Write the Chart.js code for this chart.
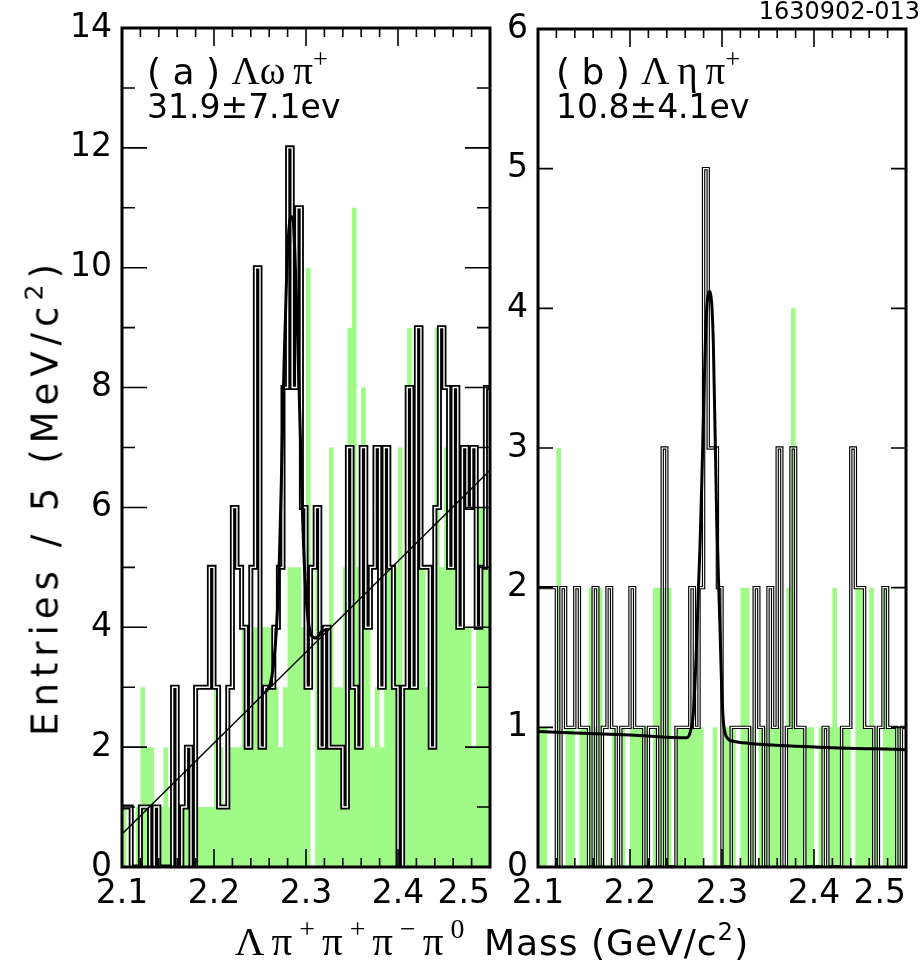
<!DOCTYPE html>
<html lang="en">
<head>
<meta charset="UTF-8">
<title>Lambda pi pi pi pi0 mass</title>
<script src="https://cdn.jsdelivr.net/npm/chart.js"></script>
<style>
  body { margin: 0; background: #fff; }
  .page { position: relative; width: 924px; height: 969px; overflow: hidden; color: #000;
          font-family: "DejaVu Sans", "Liberation Sans", Arial, sans-serif; }
  .page canvas { position: absolute; left: 0; top: 0; }
  .txt { position: absolute; white-space: nowrap; line-height: 1; }
  .gr { font-family: "Liberation Serif", "DejaVu Serif", serif; }
  sup { font-size: 0.68em; vertical-align: 0.6em; line-height: 0; }
</style>
</head>
<body>
<div class="page">
  <canvas id="chartA" width="924" height="969"></canvas>
  <canvas id="chartB" width="924" height="969"></canvas>

  <div class="txt" style="right:4px; top:-1px; font-size:24px;">1630902-013</div>

  <div class="txt" style="left:147px; top:51px; font-size:36px;">( a ) <span class="gr" style="font-size:39px;">Λω&thinsp;π<sup>+</sup></span></div>
  <div class="txt" style="left:147px; top:90px; font-size:33px;">31.9±7.1ev</div>

  <div class="txt" style="left:556px; top:51px; font-size:36px;">( b ) <span class="gr" style="font-size:39px;">Λ&thinsp;η&thinsp;π<sup>+</sup></span></div>
  <div class="txt" style="left:556px; top:90px; font-size:33px;">10.8±4.1ev</div>

  <div class="txt" style="left:45px; top:497px; font-size:37px; letter-spacing:6px; transform: translate(-50%, -50%) rotate(-90deg);">Entries / 5 (MeV/c<sup>2</sup>)</div>
  <div class="txt" style="left:492px; top:921px; font-size:36px; letter-spacing:1px; transform: translateX(-50%);"><span class="gr" style="font-size:41px; letter-spacing:7px;">Λπ<sup>+</sup>π<sup>+</sup>π<sup>−</sup>π<sup>0</sup></span> Mass (GeV/c<sup>2</sup>)</div>
</div>

<script>
// 5 MeV bins from 2.100 to 2.500 GeV (80 bins)
var massMin = 2.1;
var massMax = 2.5;
var binWidth = 0.005;
var massTicks = [2.1, 2.2, 2.3, 2.4];   // centred under the tick
var massEndTick = [2.5];                // kept inside the frame
var omegaTicks = [0, 2, 4, 6, 8, 10, 12, 14];
var etaTicks = [0, 1, 2, 3, 4, 5, 6];

// (a) Lambda omega pi+ : signal region (black) and sideband (green)
var omegaPiData = [
  1, 1, 0, 0, 1, 1, 0, 1, 0, 0,
  0, 3, 0, 1, 2, 0, 3, 3, 3, 5,
  3, 1, 1, 3, 6, 5, 4, 2, 5, 10,
  2, 3, 3, 4, 5, 8, 12, 8, 11, 6,
  3, 5, 6, 2, 4, 2, 2, 2, 1, 7,
  3, 2, 7, 4, 5, 7, 3, 7, 5, 3,
  0, 3, 8, 3, 9, 5, 5, 2, 6, 9,
  8, 5, 8, 4, 7, 6, 7, 4, 5, 8
];
var omegaPiSideband = [
  1, 0, 0, 1, 3, 2, 2, 0, 1, 2,
  1, 1, 1, 1, 1, 1, 1, 1, 1, 1,
  3, 2, 1, 2, 2, 2, 4, 4, 4, 4,
  4, 4, 4, 3, 2, 3, 5, 5, 5, 4,
  10, 0, 6, 2, 2, 7, 3, 3, 5, 9,
  11, 5, 8, 5, 2, 3, 2, 5, 5, 5,
  7, 3, 9, 4, 5, 5, 3, 3, 9, 5,
  7, 5, 5, 7, 4, 4, 2, 6, 6, 5
];
// fit: straight background and peak
var omegaBgX = [2.1, 2.5];
var omegaBgY = [0.55, 6.62];
var omegaPeakX = [2.255, 2.261, 2.2645, 2.268, 2.271, 2.2736, 2.276, 2.279, 2.2826, 2.2855,
                  2.288, 2.2906, 2.2935, 2.2964, 2.2993, 2.3025, 2.306, 2.311, 2.317, 2.325];
var omegaPeakY = [2.9, 3.05, 3.35, 4.0, 5.1, 6.7, 8.3, 9.9, 10.8, 10.85,
                  10.2, 9.0, 7.4, 5.8, 4.7, 4.1, 3.86, 3.82, 3.93, 3.97];

// (b) Lambda eta pi+
var etaPiData = [
  2, 2, 2, 2, 0, 2, 1, 1, 2, 1,
  1, 0, 2, 0, 1, 2, 1, 0, 1, 1,
  2, 1, 1, 0, 1, 1, 0, 3, 0, 0,
  1, 1, 1, 2, 1, 2, 5, 3, 3, 2,
  0, 0, 1, 1, 1, 1, 0, 2, 1, 0,
  2, 1, 3, 0, 1, 3, 1, 1, 0, 0,
  0, 0, 1, 0, 0, 0, 1, 1, 3, 2,
  2, 1, 1, 0, 1, 2, 1, 1, 0, 1
];
var etaPiSideband = [
  1, 1, 0, 0, 3, 0, 1, 1, 0, 1,
  1, 2, 1, 2, 0, 0, 1, 0, 1, 0,
  1, 1, 1, 1, 0, 2, 2, 2, 2, 0,
  1, 1, 1, 1, 1, 1, 0, 0, 1, 0,
  1, 1, 1, 0, 2, 2, 1, 0, 1, 1,
  1, 1, 1, 0, 2, 4, 1, 1, 1, 1,
  0, 1, 0, 1, 2, 1, 1, 1, 0, 2,
  2, 1, 2, 1, 0, 2, 1, 1, 1, 0
];
var etaFitX = [2.1, 2.2, 2.2616, 2.2652, 2.2688, 2.2717, 2.2742, 2.2761, 2.278, 2.2834, 2.287,
               2.2906, 2.2942, 2.2978, 2.2996, 2.3014, 2.3051, 2.3123, 2.3304, 2.4, 2.5];
var etaFitY = [0.97, 0.945, 0.925, 0.96, 1.1, 1.48, 1.96, 2.3, 2.75, 4.0, 4.12,
               3.75, 2.5, 1.72, 1.29, 1.05, 0.93, 0.9, 0.885, 0.86, 0.84];

var green = "rgb(160, 250, 135)";
var fontName = "'DejaVu Sans', 'Liberation Sans', Arial, sans-serif";

// histogram -> points at the bin left edges (+ closing point) for a stepped line
function toSteps(values) {
  var pts = [];
  for (var i = 0; i < values.length; i++) {
    pts.push({ x: +(massMin + i * binWidth).toFixed(3), y: values[i] });
  }
  pts.push({ x: massMax, y: values[values.length - 1] });
  return pts;
}
function toPoints(xs, ys) {
  var pts = [];
  for (var i = 0; i < xs.length; i++) pts.push({ x: xs[i], y: ys[i] });
  return pts;
}

// ticks pointing into the plot + thick frame
var frameTicks = {
  id: "frameTicks",
  afterDraw: function (chart, args, o) {
    var ctx = chart.ctx, a = chart.chartArea;
    var xs = chart.scales.x, ys = chart.scales.y;
    ctx.save();
    ctx.strokeStyle = "#000";
    ctx.lineWidth = 1.6;
    ctx.beginPath();
    for (var i = 0; i <= 20; i++) {
      var px = xs.getPixelForValue(massMin + i * 0.02);
      var len = (i % 5 === 0) ? 18 : 9;
      ctx.moveTo(px, a.bottom); ctx.lineTo(px, a.bottom - len);
      ctx.moveTo(px, a.top); ctx.lineTo(px, a.top + len);
    }
    for (var j = 0; j <= o.yMax; j++) {
      var py = ys.getPixelForValue(j);
      var l = (j % o.yMajor === 0) ? o.yLong : o.yShort;
      ctx.moveTo(a.left, py); ctx.lineTo(a.left + l, py);
      ctx.moveTo(a.right, py); ctx.lineTo(a.right - l, py);
    }
    ctx.stroke();
    ctx.lineWidth = 3;
    ctx.strokeRect(a.left, a.top, a.right - a.left, a.bottom - a.top);
    ctx.restore();
  }
};

function tickFont() { return { family: fontName, size: 33 }; }

function makeChart(id, hist, side, fits, yMax, yTicks, yTickOpts, box, lineW) {
  var datasets = [];
  fits.forEach(function (f) {
    datasets.push({ data: f.pts, borderColor: "#000", borderWidth: f.w, pointRadius: 0,
                    fill: false, cubicInterpolationMode: "monotone", order: 0 });
  });
  datasets.push({ data: toSteps(hist), stepped: "before", borderColor: "#fff",
                  borderWidth: lineW[1], pointRadius: 0, fill: false, order: 1,
                  borderJoinStyle: "miter" });
  datasets.push({ data: toSteps(hist), stepped: "before", borderColor: "#000",
                  borderWidth: lineW[0], pointRadius: 0, fill: false, order: 2,
                  borderJoinStyle: "miter" });
  datasets.push({ data: toSteps(side), stepped: "before", borderColor: "rgba(0,0,0,0)",
                  borderWidth: 0, backgroundColor: green, pointRadius: 0,
                  fill: "origin", order: 3 });

  return new Chart(document.getElementById(id), {
    type: "line",
    data: { datasets: datasets },
    options: {
      responsive: false,
      animation: false,
      devicePixelRatio: 1,
      events: [],
      layout: { padding: { left: box.padLeft, right: box.padRight, top: box.padTop, bottom: 0 } },
      plugins: {
        legend: { display: false },
        tooltip: { enabled: false },
        frameTicks: yTickOpts
      },
      scales: {
        x: {
          type: "linear", min: massMin, max: massMax,
          grid: { display: false, drawTicks: false }, border: { display: false },
          afterBuildTicks: function (s) { s.ticks = massTicks.map(function (v) { return { value: v }; }); },
          afterFit: function (s) { s.height = 102; s.paddingLeft = 0; s.paddingRight = 0; },
          ticks: { color: "#000", padding: 8, maxRotation: 0, autoSkip: false, font: tickFont(),
                   callback: function (v) { return v.toFixed(1); } }
        },
        xEnd: {
          type: "linear", min: massMin, max: massMax, position: { y: 0 },
          grid: { display: false, drawTicks: false }, border: { display: false },
          afterBuildTicks: function (s) { s.ticks = massEndTick.map(function (v) { return { value: v }; }); },
          afterFit: function (s) { s.paddingLeft = 0; s.paddingRight = 0; },
          ticks: { color: "#000", padding: 8, maxRotation: 0, autoSkip: false, align: "end",
                   font: tickFont(), callback: function (v) { return v.toFixed(1); } }
        },
        y: {
          min: 0, max: yMax,
          grid: { display: false, drawTicks: false }, border: { display: false },
          afterBuildTicks: function (s) { s.ticks = yTicks.map(function (v) { return { value: v }; }); },
          afterFit: function (s) { s.width = box.yWidth; s.paddingTop = 0; s.paddingBottom = 0; },
          ticks: { color: "#000", padding: 10, font: tickFont() }
        }
      }
    },
    plugins: [frameTicks]
  });
}

makeChart("chartA", omegaPiData, omegaPiSideband,
  [{ pts: toPoints(omegaBgX, omegaBgY), w: 1.5 }, { pts: toPoints(omegaPeakX, omegaPeakY), w: 3 }],
  14, omegaTicks, { yMax: 14, yMajor: 2, yLong: 25, yShort: 13 },
  { padLeft: 0, padRight: 434, padTop: 28, yWidth: 122 }, [5, 1.4]);

makeChart("chartB", etaPiData, etaPiSideband,
  [{ pts: toPoints(etaFitX, etaFitY), w: 3 }],
  6, etaTicks, { yMax: 6, yMajor: 1, yLong: 15, yShort: 15 },
  { padLeft: 478, padRight: 18, padTop: 29, yWidth: 60 }, [3.4, 1.1]);
</script>
</body>
</html>
